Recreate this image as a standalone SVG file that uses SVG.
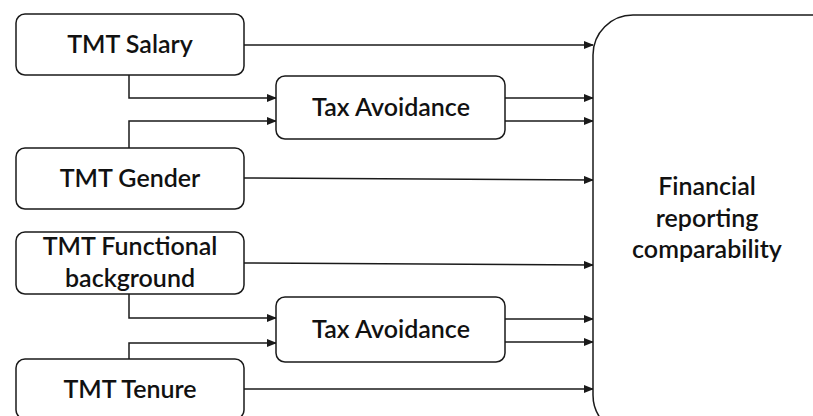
<svg xmlns="http://www.w3.org/2000/svg" width="813" height="416" viewBox="0 0 813 416">
<style>
.box{fill:#fff;stroke:#1a1a1a;stroke-width:1.5}
.t{font-family:Lato,"Noto Sans",sans-serif;font-size:25px;font-weight:600;fill:#111;text-anchor:middle}
.c{fill:none;stroke:#1a1a1a;stroke-width:1.5}
</style>
<defs>
<marker id="ah" markerWidth="10" markerHeight="8" refX="9" refY="4" orient="auto" markerUnits="userSpaceOnUse">
<path d="M0,0 L10,4 L0,8 Z" fill="#1a1a1a"/>
</marker>
</defs>
<rect width="813" height="416" fill="#fff"/>
<g id="connectors">
<path class="c" d="M244,45 H593" marker-end="url(#ah)"/>
<path class="c" d="M129,75 V98 H276" marker-end="url(#ah)"/>
<path class="c" d="M129,148 V121 H276" marker-end="url(#ah)"/>
<path class="c" d="M505,98 H593" marker-end="url(#ah)"/>
<path class="c" d="M505,121 H593" marker-end="url(#ah)"/>
<path class="c" d="M244,178 L593,180" marker-end="url(#ah)"/>
<path class="c" d="M244,263 L593,265" marker-end="url(#ah)"/>
<path class="c" d="M129,294 V318 H276" marker-end="url(#ah)"/>
<path class="c" d="M129,359 V343 H276" marker-end="url(#ah)"/>
<path class="c" d="M505,319 H593" marker-end="url(#ah)"/>
<path class="c" d="M505,342 H593" marker-end="url(#ah)"/>
<path class="c" d="M244,389 H593" marker-end="url(#ah)"/>
</g>
<g id="salary"><rect class="box" x="16" y="14" width="228" height="61" rx="9"/><text class="t" x="130" y="53">TMT Salary</text></g>
<g id="tax1"><rect class="box" x="276" y="76" width="229" height="63" rx="9"/><text class="t" x="391" y="116">Tax Avoidance</text></g>
<g id="gender"><rect class="box" x="16" y="148" width="228" height="61" rx="9"/><text class="t" x="130" y="187">TMT Gender</text></g>
<g id="functional"><rect class="box" x="16" y="232" width="228" height="62" rx="9"/><text class="t" x="130" y="255">TMT Functional</text><text class="t" x="130" y="287">background</text></g>
<g id="tax2"><rect class="box" x="276" y="297" width="229" height="65" rx="9"/><text class="t" x="391" y="338">Tax Avoidance</text></g>
<g id="tenure"><rect class="box" x="16" y="359" width="228" height="60" rx="9"/><text class="t" x="130" y="398">TMT Tenure</text></g>
<g id="frc"><rect class="box" x="593" y="15" width="260" height="420" rx="40"/><text class="t" x="707" y="195">Financial</text><text class="t" x="707" y="227">reporting</text><text class="t" x="707" y="258">comparability</text></g>
</svg>
